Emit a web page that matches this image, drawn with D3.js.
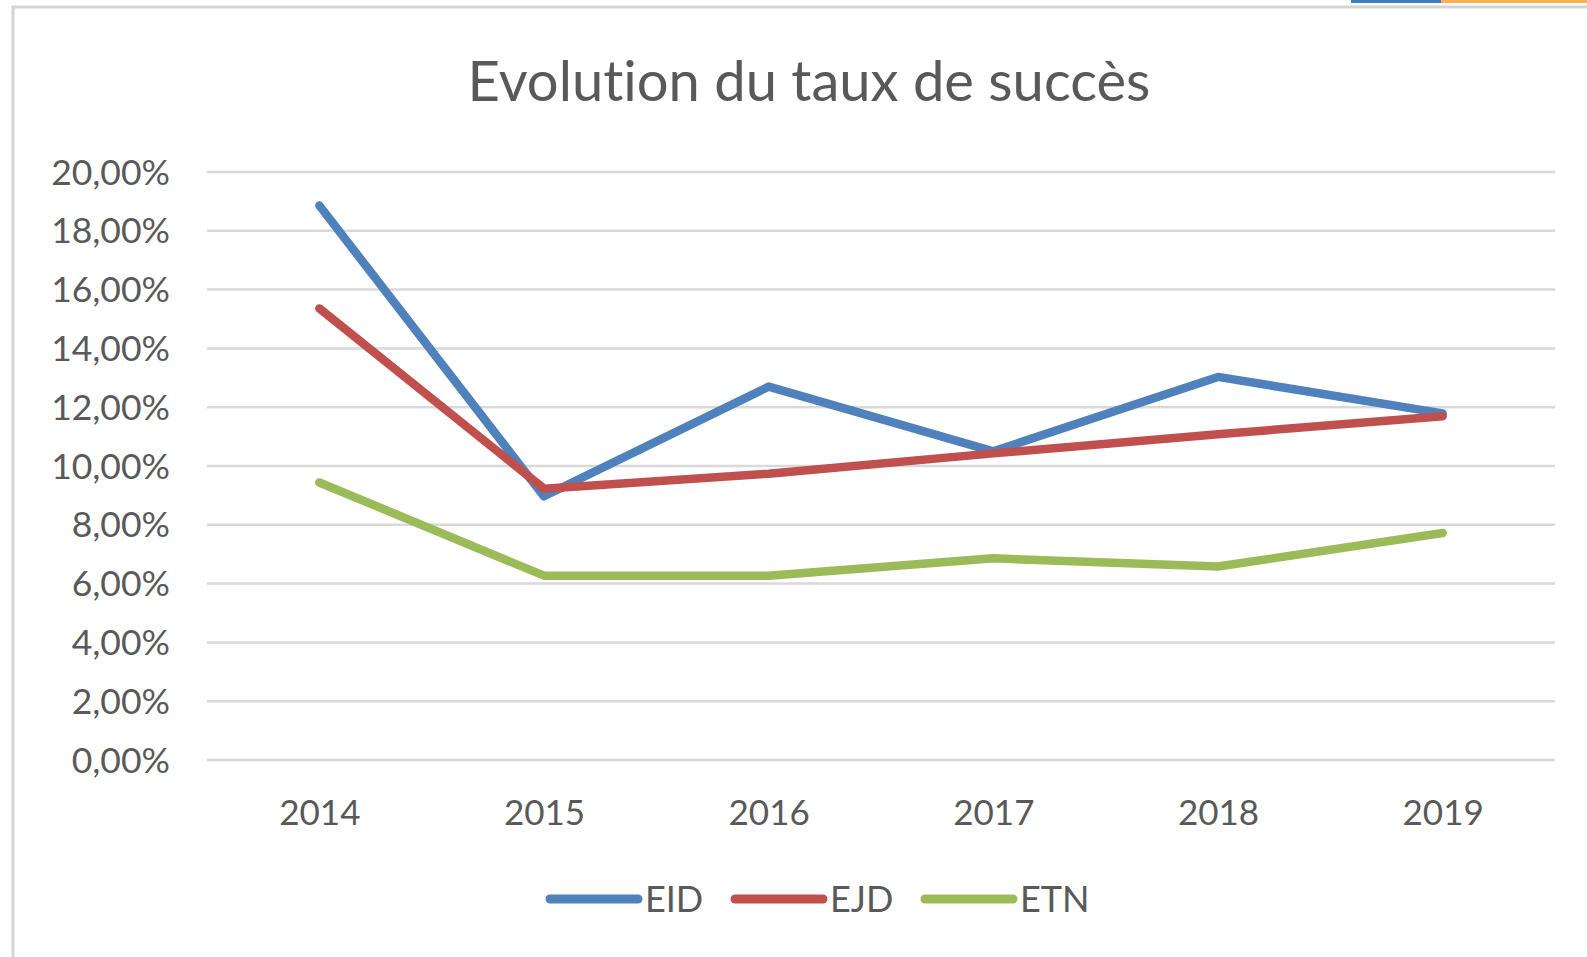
<!DOCTYPE html>
<html><head><meta charset="utf-8">
<script src="https://cdn.jsdelivr.net/npm/d3@7"></script>
<style>body{margin:0;background:#fff}svg{display:block}text{font-family:Lato,"Open Sans",sans-serif;fill:#595959;font-variant-ligatures:none;font-feature-settings:"liga" 0}</style>
</head><body>
<script>
const years = ["2014","2015","2016","2017","2018","2019"];
const eid = [18.86, 8.97, 12.70, 10.50, 13.03, 11.79];
const ejd = [15.36, 9.23, 9.74, 10.43, 11.08, 11.69];
const etn = [9.44, 6.27, 6.27, 6.86, 6.58, 7.72];
const seriesNames = ["EID","EJD","ETN"];
const colors = ["#4F81BD","#C0504D","#9BBB59"];
const yTicks = [0,2,4,6,8,10,12,14,16,18,20];

const W=1587,H=957;
const svg=d3.select("body").append("svg").attr("width",W).attr("height",H);
svg.append("rect").attr("width",W).attr("height",H).attr("fill","#fff");
svg.append("rect").attr("x",1351).attr("y",0).attr("width",90).attr("height",3).attr("fill","#3f7fc7");
svg.append("rect").attr("x",1441).attr("y",0).attr("width",146).attr("height",3).attr("fill","#fdb04b");
svg.append("path").attr("d","M13,957 V7 H1587").attr("fill","none").attr("stroke","#d4d4d4").attr("stroke-width",3);

const x=d3.scalePoint().domain(years).range([207,1555]).padding(0.5);
const y=d3.scaleLinear().domain([0,20]).range([760,172]);

svg.append("g").selectAll("line").data(yTicks).join("line")
 .attr("x1",207).attr("x2",1555).attr("y1",d=>y(d)).attr("y2",d=>y(d))
 .attr("stroke","#d9d9d9").attr("stroke-width",2.5);

const fmt=d=>d.toFixed(2).replace(".",",")+"%";
const yAxis=svg.append("g").attr("transform","translate(170,0)")
 .call(d3.axisLeft(y).tickValues(yTicks).tickFormat(fmt).tickSize(0).tickPadding(0));
yAxis.select(".domain").remove();
yAxis.selectAll("text").attr("font-size",35.5).attr("fill","#595959").attr("dy","0.34em").style("font-family","Lato");

const xAxis=svg.append("g").attr("transform","translate(0,760)")
 .call(d3.axisBottom(x).tickSize(0).tickPadding(0));
xAxis.select(".domain").remove();
xAxis.selectAll("text").attr("font-size",35).attr("fill","#595959").attr("y",65).attr("dy",0).style("font-family","Lato");

const data=[eid,ejd,etn];
const line=d3.line().x((d,i)=>x(years[i])).y(d=>y(d));
data.forEach((s,k)=>{
 svg.append("path").attr("d",line(s)).attr("fill","none").attr("stroke",colors[k])
  .attr("stroke-width",8.5).attr("stroke-linejoin","round").attr("stroke-linecap","round");
});

const t=svg.append("text").attr("x",809).attr("y",101).attr("text-anchor","middle")
 .attr("font-size",48).text("Evolution du taux de succès");
const tl=t.node().getComputedTextLength();
t.attr("font-size",48*683/tl);

const legX=[550,735,925];
seriesNames.forEach((n,k)=>{
 svg.append("line").attr("x1",legX[k]).attr("x2",legX[k]+88).attr("y1",899).attr("y2",899)
  .attr("stroke",colors[k]).attr("stroke-width",9).attr("stroke-linecap","round");
 svg.append("text").attr("x",legX[k]+95).attr("y",912).attr("font-size",36).text(n);
});
</script>
</body></html>
